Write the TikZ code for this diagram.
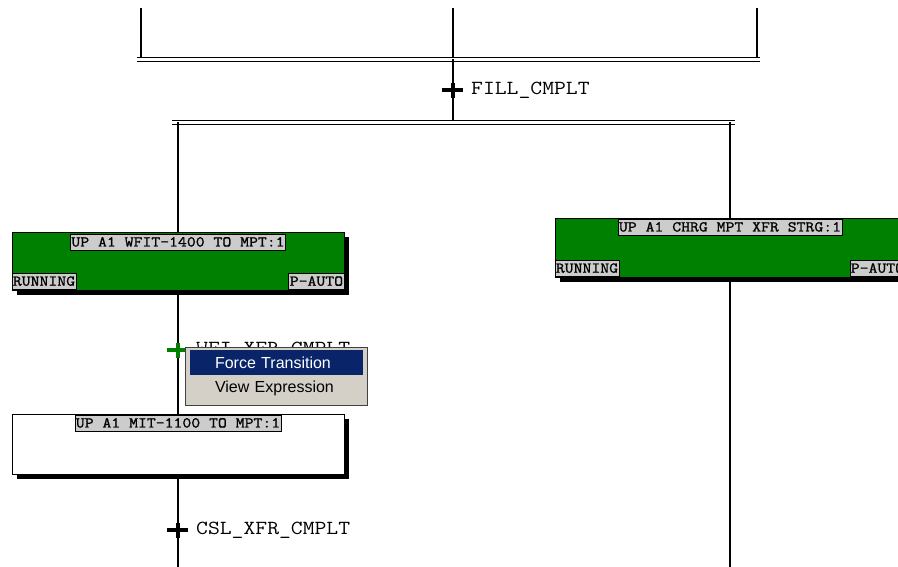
\documentclass[tikz,border=0pt]{standalone}
\usepackage{fontspec}
\setmainfont{Liberation Sans}
\newfontfamily\sfcmono[FakeStretch=1.15]{Latin Modern Mono}
\newfontfamily\sfctag[FakeStretch=1.15, FakeBold=1.2]{Latin Modern Mono}
\usetikzlibrary{positioning, shadows}

\definecolor{sfcgreen}{RGB}{0,128,0}
\definecolor{taggrey}{RGB}{204,204,204}
\definecolor{menugrey}{RGB}{212,208,200}
\definecolor{menublue}{RGB}{10,36,106}

% transition: name, position, colour, condition
\newcommand{\sfctrans}[4]{%
  \coordinate (#1) at #2;
  \draw[transbar, #3] ([xshift=-11pt]#1) -- ([xshift=10pt]#1);
  \draw[transbar, #3] ([yshift=7pt]#1) -- ([yshift=-8pt]#1);
  \node[condlabel, right=18pt of #1] (#1-cond) {#4};
}

\begin{document}
\begin{tikzpicture}[
    x=1pt, y=-1pt,
    link/.style={line width=1.2pt},
    syncbar/.style={double, double distance=3.5pt, line width=1.1pt},
    transbar/.style={line width=3.2pt},
    stepbox/.style={rectangle, draw=black, line width=0.8pt, minimum height=58pt, inner sep=0pt,
      general shadow={fill=black, shadow xshift=5pt, shadow yshift=-5pt}},
    tagbox/.style={rectangle, draw=black, line width=0.6pt, fill=taggrey, inner xsep=1pt, inner ysep=0pt,
      minimum height=16pt, font=\sfctag\fontsize{15}{15}\selectfont},
    condlabel/.style={inner sep=0pt, font=\sfcmono\fontsize{20}{20}\selectfont},
    menubox/.style={rectangle, draw={rgb,255:red,64;green,64;blue,64}, line width=1pt, fill=menugrey,
      minimum width=182pt, minimum height=58pt},
    menuitem/.style={rectangle, text width=123pt, align=left, inner xsep=25pt, inner ysep=0pt,
      minimum height=25pt, font=\fontsize{16}{16}\selectfont}
  ]
  \useasboundingbox[fill=white] (0,0) rectangle (898,567);

  % upper branches joining
  \coordinate (topL) at (141,8);
  \coordinate (topM) at (453,8);
  \coordinate (topR) at (757,8);
  \coordinate (syncA-w) at (137,59.5);
  \coordinate (syncA-e) at (760,59.5);
  \draw[link] (topL) -- (topL |- syncA-w);
  \draw[link] (topM) -- (topM |- syncA-w);
  \draw[link] (topR) -- (topR |- syncA-w);
  \draw[syncbar] (syncA-w) -- (syncA-e);

  % FILL_CMPLT
  \sfctrans{fill}{(453,90)}{black}{FILL\_CMPLT}
  \coordinate (syncB-w) at (172,122.5);
  \coordinate (syncB-e) at (735,122.5);
  \draw[link] (topM |- syncA-w) -- (topM |- syncB-w);
  \draw[syncbar] (syncB-w) -- (syncB-e);

  % steps
  \node[stepbox, fill=sfcgreen, minimum width=332pt] (wfit) at (178,261) {};
  \node[tagbox, anchor=north] (wfit-name) at ([yshift=-2pt]wfit.north) {UP A1 WFIT-1400 TO MPT:1};
  \node[tagbox, anchor=south west] (wfit-state) at ([yshift=1pt]wfit.south west) {RUNNING};
  \node[tagbox, anchor=south east] (wfit-mode) at ([yshift=1pt]wfit.south east) {P-AUTO};

  \node[stepbox, fill=sfcgreen, minimum width=350pt, minimum height=59pt] (chrg) at (730,247.5) {};
  \node[tagbox, anchor=north] (chrg-name) at ([yshift=-1pt]chrg.north) {UP A1 CHRG MPT XFR STRG:1};
  \node[tagbox, anchor=south west] (chrg-state) at ([yshift=1pt]chrg.south west) {RUNNING};
  \node[tagbox, anchor=south east] (chrg-mode) at ([yshift=1pt]chrg.south east) {P-AUTO};

  \node[stepbox, fill=white, minimum width=332pt, minimum height=60pt] (mit) at (178,444) {};
  \node[tagbox, anchor=north] (mit-name) at ([yshift=-1pt]mit.north) {UP A1 MIT-1100 TO MPT:1};

  \draw[link] (wfit.north |- syncB-w) -- (wfit.north);
  \draw[link] (chrg.north |- syncB-w) -- (chrg.north);

  % left branch
  \draw[link] ([yshift=-5pt]wfit.south) -- (mit.north);
  \sfctrans{wfi}{(178,350)}{sfcgreen}{WFI\_XFR\_CMPLT}
  \coordinate (endL) at (178,567);
  \draw[link] ([yshift=-5pt]mit.south) -- (endL);
  \sfctrans{csl}{(178,530)}{black}{CSL\_XFR\_CMPLT}

  % right branch
  \coordinate (endR) at (730,567);
  \draw[link] ([yshift=-5pt]chrg.south) -- (endR);

  % context menu
  \node[menubox] (menu) at (276,376) {};
  \node[menuitem, fill=menublue, text=white] (force) at (276.5,362.5) {Force Transition};
  \node[menuitem, text=black, below=0pt of force] (view) {View Expression};
\end{tikzpicture}
\end{document}
